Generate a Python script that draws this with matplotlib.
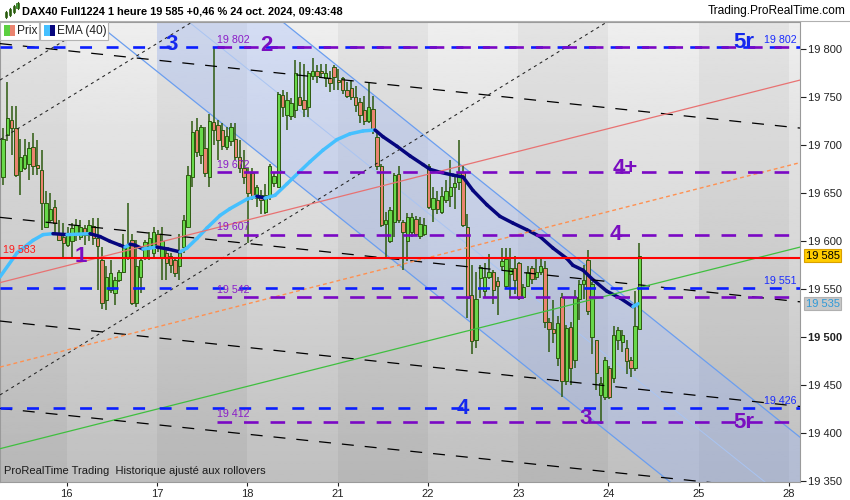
import matplotlib
matplotlib.use("Agg")
import matplotlib.pyplot as plt
import numpy as np
from matplotlib.collections import LineCollection
from matplotlib.patches import Rectangle, Polygon
from matplotlib.lines import Line2D

plt.rcParams["font.family"] = ["Liberation Sans", "DejaVu Sans"]
plt.rcParams["lines.scale_dashes"] = False

# time axis: one unit per trading session, 16 oct. = 1
day_labels = ["16", "17", "18", "21", "22", "23", "24", "25", "28"]
day_ticks = [1, 2, 3, 4, 5, 6, 7, 8, 9]
slots_per_day = 21

# hourly candles (open, high, low, close)
bars_15 = [
    (19667, 19718, 19659, 19707), (19711, 19766, 19705, 19728),
    (19726, 19741, 19690, 19718), (19718, 19741, 19667, 19669),
    (19673, 19707, 19648, 19688), (19676, 19707, 19674, 19690),
    (19681, 19704, 19664, 19697), (19698, 19713, 19669, 19678),
    (19680, 19706, 19669, 19676), (19674, 19695, 19612, 19640),
    (19615, 19652, 19614, 19640), (19622, 19650, 19620, 19634),
    (19636, 19643, 19608, 19619), (19609, 19622, 19600, 19601),
    (19605, 19619, 19584, 19598),
]
bars_16 = [
    (19596, 19615, 19594, 19607), (19600, 19619, 19584, 19614),
    (19608, 19623, 19600, 19617), (19605, 19622, 19601, 19615),
    (19614, 19617, 19596, 19607), (19607, 19622, 19600, 19617),
    (19616, 19624, 19596, 19603), (19603, 19624, 19549, 19595),
    (19581, 19594, 19530, 19536), (19539, 19574, 19529, 19563),
    (19549, 19581, 19546, 19567), (19546, 19563, 19534, 19560),
    (19560, 19570, 19558, 19568), (19568, 19608, 19567, 19594),
    (19584, 19640, 19581, 19595), (19601, 19608, 19534, 19536),
    (19536, 19601, 19532, 19574), (19563, 19584, 19546, 19581),
    (19583, 19601, 19581, 19599), (19594, 19610, 19581, 19603),
    (19588, 19615, 19584, 19610),
]
bars_17 = [
    (19608, 19612, 19589, 19595), (19583, 19615, 19560, 19600),
    (19588, 19594, 19560, 19577), (19585, 19588, 19567, 19575),
    (19581, 19584, 19563, 19567), (19574, 19608, 19560, 19588),
    (19594, 19627, 19588, 19622), (19615, 19678, 19615, 19669),
    (19667, 19725, 19657, 19714), (19716, 19728, 19688, 19693),
    (19690, 19721, 19681, 19719), (19697, 19719, 19667, 19671),
    (19667, 19733, 19657, 19725), (19724, 19802, 19700, 19716),
    (19721, 19726, 19685, 19706), (19716, 19723, 19695, 19699),
    (19698, 19719, 19695, 19710), (19705, 19723, 19699, 19719),
    (19707, 19723, 19685, 19688), (19688, 19706, 19671, 19676),
    (19676, 19695, 19660, 19667),
]
bars_18 = [
    (19672, 19676, 19598, 19650), (19671, 19676, 19643, 19647),
    (19645, 19659, 19636, 19657), (19648, 19653, 19629, 19643),
    (19631, 19660, 19629, 19648), (19648, 19681, 19643, 19678),
    (19661, 19672, 19657, 19668), (19657, 19756, 19657, 19754),
    (19752, 19758, 19730, 19740), (19732, 19756, 19716, 19747),
    (19731, 19749, 19726, 19744), (19737, 19789, 19728, 19775),
    (19750, 19787, 19744, 19742), (19747, 19785, 19730, 19738),
    (19740, 19777, 19730, 19775), (19772, 19791, 19768, 19777),
    (19777, 19784, 19765, 19772), (19777, 19785, 19771, 19775),
    (19770, 19785, 19761, 19775), (19770, 19777, 19756, 19765),
    (19782, 19784, 19758, 19771),
]
bars_21 = [
    (19768, 19780, 19758, 19766), (19770, 19771, 19754, 19758),
    (19758, 19766, 19749, 19751), (19760, 19768, 19747, 19750),
    (19750, 19762, 19735, 19742), (19745, 19749, 19723, 19732),
    (19737, 19751, 19721, 19725), (19725, 19765, 19723, 19740),
    (19738, 19751, 19712, 19716), (19709, 19716, 19674, 19678),
    (19679, 19681, 19615, 19617), (19618, 19631, 19582, 19622),
    (19600, 19636, 19598, 19633), (19620, 19671, 19605, 19669),
    (19670, 19678, 19619, 19622), (19620, 19622, 19570, 19610),
    (19600, 19630, 19580, 19625), (19610, 19630, 19605, 19625),
    (19623, 19626, 19606, 19608), (19606, 19625, 19602, 19618),
    (19608, 19624, 19606, 19617),
]
bars_22 = [
    (19679, 19681, 19634, 19636), (19634, 19657, 19620, 19645),
    (19643, 19652, 19629, 19634), (19631, 19657, 19629, 19647),
    (19643, 19664, 19640, 19652), (19647, 19685, 19636, 19657),
    (19657, 19667, 19634, 19661), (19662, 19706, 19654, 19671),
    (19672, 19678, 19615, 19617), (19615, 19629, 19520, 19541),
    (19544, 19575, 19483, 19496), (19497, 19568, 19489, 19540),
    (19562, 19575, 19541, 19573), (19548, 19577, 19541, 19563),
    (19563, 19587, 19561, 19568), (19568, 19570, 19535, 19549),
    (19559, 19563, 19523, 19553), (19574, 19593, 19570, 19580),
    (19553, 19593, 19551, 19582), (19566, 19593, 19541, 19572),
    (19572, 19585, 19545, 19560),
]
bars_23 = [
    (19577, 19579, 19539, 19541), (19542, 19556, 19540, 19552),
    (19553, 19574, 19552, 19568), (19572, 19574, 19556, 19561),
    (19563, 19584, 19560, 19568), (19568, 19584, 19565, 19574),
    (19572, 19580, 19510, 19516), (19516, 19520, 19485, 19509),
    (19509, 19539, 19494, 19504), (19478, 19522, 19470, 19515),
    (19542, 19546, 19438, 19455), (19455, 19513, 19450, 19510),
    (19511, 19516, 19450, 19468), (19476, 19549, 19468, 19542),
    (19540, 19560, 19518, 19556), (19556, 19575, 19540, 19560),
    (19581, 19591, 19523, 19527), (19500, 19558, 19483, 19556),
    (19497, 19497, 19445, 19463), (19440, 19459, 19410, 19452),
    (19438, 19480, 19435, 19476),
]
bars_24 = [
    (19468, 19470, 19436, 19438), (19458, 19512, 19452, 19502),
    (19497, 19511, 19487, 19508), (19495, 19508, 19485, 19502),
    (19489, 19497, 19462, 19475), (19476, 19480, 19459, 19468),
    (19468, 19548, 19465, 19512), (19509, 19598, 19509, 19585),
]
sessions = [bars_15, bars_16, bars_17, bars_18, bars_21, bars_22, bars_23, bars_24]
session_first_slot = [6, 0, 0, 0, 0, 0, 0, 0]

# EMA(40) read along its path
ema_t = [0.261, 0.450, 0.627, 0.738, 0.848, 1.003, 1.258, 1.369, 1.480, 1.590,
         1.646, 1.701, 1.756, 1.845, 1.922, 2.000, 2.122, 2.255, 2.332, 2.443,
         2.554, 2.698, 2.808, 2.997, 3.107, 3.196, 3.307, 3.440, 3.584, 3.695,
         3.838, 3.993, 4.137, 4.281, 4.414, 4.503, 4.658, 4.802, 4.946, 5.024,
         5.134, 5.278, 5.389, 5.499, 5.654, 5.798, 5.942, 6.097, 6.241, 6.385,
         6.540, 6.606, 6.717, 6.828, 6.983, 7.127, 7.271, 7.327]
ema_v = [19563, 19588, 19601, 19607, 19608, 19607, 19608, 19605, 19600, 19596,
         19594, 19597, 19596, 19592, 19593, 19594, 19592, 19589, 19593, 19603,
         19614, 19627, 19634, 19644, 19647, 19645, 19648, 19660, 19673, 19683,
         19695, 19706, 19712, 19715, 19716, 19709, 19699, 19689, 19680, 19675,
         19672, 19669, 19667, 19653, 19638, 19626, 19619, 19612, 19605, 19593,
         19582, 19575, 19570, 19560, 19548, 19541, 19532, 19535]

# horizontal levels
blue_levels = [19802, 19551, 19426]
purple_levels = [19802, 19672, 19607, 19542, 19412]
purple_start = 2.664
prev_close = 19583
last_price = 19585
last_ema = 19535

# drawn trend lines, each given by two points (session time, price)
down_dashed = [((0.261, 19806), (9.121, 19718)), ((0.261, 19625), (9.121, 19537)),
               ((0.261, 19517), (9.121, 19428)), ((0.261, 19426), (9.121, 19339))]
up_dotted = [((0.261, 19440), (6.975, 19828)), ((0.261, 19706), (2.398, 19829)),
             ((0.261, 19768), (1.300, 19828))]
red_line = ((0.261, 19557), (9.121, 19768))
orange_line = ((0.261, 19469), (9.121, 19682))
green_line = ((0.261, 19384), (9.121, 19594))
chan_lower = ((1.47, 19817), (7.66, 19351))
chan_mid = ((2.40, 19825), (8.71, 19351))
chan_upper = ((3.40, 19828), (9.12, 19396))
chan_start = 2.0

price_ticks = list(range(19350, 19801, 50))

X0, X1 = 0.2614, 9.1207
Y0, Y1 = 19349.3, 19828.5
W, H = 850, 500


def fmt(v):
    return f"{v:,}".replace(",", " ")


def line_at(seg, x):
    (xa, ya), (xb, yb) = seg
    return ya + (yb - ya) * (np.asarray(x) - xa) / (xb - xa)


def px(x, y):
    return x / W, 1 - y / H


fig = plt.figure(figsize=(8.5, 5), dpi=100, facecolor="white")
ax = fig.add_axes([0, 18 / H, 800 / W, 460 / H])
ax.set_xlim(X0, X1)
ax.set_ylim(Y0, Y1)

# background: vertical gradient + alternating session shading
grad = np.linspace(0.935, 0.75, 256)[:, None]
ax.imshow(grad, extent=[X0, X1, Y0, Y1], aspect="auto", cmap="gray",
          vmin=0, vmax=1, origin="upper", zorder=0)
for d in [0, 2, 4, 6, 8]:
    ax.axvspan(max(d, X0), d + 1, color="black", alpha=0.045, lw=0, zorder=0.5)

# regression channel
xs = np.array([chan_start, X1])
lo = line_at(chan_lower, xs)
up = line_at(chan_upper, xs)
ax.add_patch(Polygon([(xs[0], lo[0]), (xs[1], lo[1]), (xs[1], up[1]), (xs[0], up[0])],
                     closed=True, facecolor="#96b4ff", alpha=0.3, lw=0, zorder=1))
full = np.array([X0, X1])
ax.plot(full, line_at(chan_lower, full), color="#6a9ef0", lw=0.9, zorder=2)
ax.plot(full, line_at(chan_upper, full), color="#6a9ef0", lw=0.9, zorder=2)
ax.plot(full, line_at(chan_mid, full), color="#a9c4f2", lw=0.7, zorder=2)

# slanted trend lines
for seg in down_dashed:
    ax.plot(full, line_at(seg, full), color="black", lw=0.9,
            dashes=(8.6, 7.9), zorder=4.5)
for seg in up_dotted:
    ax.plot(full, line_at(seg, full), color="#222222", lw=0.75,
            dashes=(2.2, 2.6), zorder=4.5)
ax.plot(full, line_at(red_line, full), color="#e87272", lw=0.9, zorder=4.5)
ax.plot(full, line_at(orange_line, full), color="#ff9050", lw=1.0,
        dashes=(2.8, 2.2), zorder=4.5)
ax.plot(full, line_at(green_line, full), color="#3fbf3f", lw=0.9, zorder=4.5)

# candles
wick_c = "#2d5a10"
for bars, first, day in zip(sessions, session_first_slot, range(len(sessions))):
    for k, (o, h, l, c) in enumerate(bars):
        x = day + (first + k + 0.2) / slots_per_day
        ax.vlines(x, l, h, color=wick_c, lw=1.1, zorder=3)
        body = max(abs(c - o), 1.2)
        ax.bar(x, body, bottom=min(o, c), width=0.037,
               color="#68d84a" if c >= o else "#ea8470",
               edgecolor=wick_c, linewidth=0.7, zorder=3.2)

# EMA(40), light when rising, dark when falling
pts = np.column_stack([ema_t, ema_v])
segs = np.stack([pts[:-1], pts[1:]], axis=1)
cols = ["#45c0ff" if b >= a else "#06067e" for a, b in zip(ema_v[:-1], ema_v[1:])]
ax.add_collection(LineCollection(segs, colors=cols, linewidths=2.5,
                                 capstyle="round", joinstyle="round", zorder=4))

# horizontal levels
for lv in blue_levels:
    ax.plot(full, [lv, lv], color="#0a1eff", lw=1.9, dashes=(8.6, 10.5), zorder=5)
for lv in purple_levels:
    ax.plot([purple_start, X1], [lv, lv], color="#7a08c4", lw=1.9,
            dashes=(10.5, 8.6), zorder=5.1)
ax.axhline(prev_close, color="#ff0000", lw=1.5, zorder=5.2)

# level labels
for lv in purple_levels:
    ax.text(purple_start + 0.005, lv + 2.5, fmt(lv), color="#8a1cc8", fontsize=7.7,
            ha="left", va="bottom", zorder=6)
for lv in blue_levels:
    ax.text(9.087, lv + 2.5, fmt(lv), color="#1a2cff", fontsize=7.7,
            ha="right", va="bottom", zorder=6)
ax.text(0.294, prev_close + 2.5, fmt(prev_close), color="#ff1a1a", fontsize=7.7,
        ha="left", va="bottom", zorder=6)

big = dict(fontsize=16, fontweight="bold", ha="center", va="center", zorder=6)
ax.text(2.160, 19805, "3", color="#1428ee", **big)
ax.text(3.213, 19803.5, "2", color="#7a0ec0", **big)
ax.text(8.50, 19807, "5r", color="#1428ee", **big)
ax.text(7.188, 19676, "4+", color="#7a0ec0", **big)
ax.text(7.083, 19607, "4", color="#7a0ec0", **big)
ax.text(1.158, 19584, "1", color="#7a0ec0", **big)
ax.text(5.389, 19426, "4", color="#1428ee", **big)
ax.text(6.751, 19415, "3", color="#7a0ec0", **big)
ax.text(8.50, 19411, "5r", color="#7a0ec0", **big)

ax.text(0.005, 0.012, "ProRealTime Trading  Historique ajusté aux rollovers",
        transform=ax.transAxes, fontsize=8, color="#1a1a1a", ha="left",
        va="bottom", zorder=6)

# axes
ax.yaxis.tick_right()
ax.set_yticks(price_ticks)
ax.set_yticklabels([fmt(v) for v in price_ticks])
for lab, v in zip(ax.get_yticklabels(), price_ticks):
    if v == 19500:
        lab.set_fontweight("bold")
ax.set_xticks(day_ticks)
ax.set_xticklabels(day_labels)
ax.tick_params(axis="y", length=4, width=0.8, colors="#222222", labelsize=8, pad=2)
ax.tick_params(axis="x", length=3, width=0.8, colors="#222222", labelsize=8, pad=2)
for sp in ax.spines.values():
    sp.set_color("#9a9a9a")
    sp.set_linewidth(0.8)

# price boxes on the scale
for val, fc, ec, tc in [(last_price, "#ffcc00", "#d9a000", "black"),
                        (last_ema, "#c8c8c8", "#b0b0b0", "#2f9ad8")]:
    ax.annotate(fmt(val), xy=(1.0, val), xycoords=("axes fraction", "data"),
                xytext=(4, 0), textcoords="offset points", fontsize=8, color=tc,
                ha="left", va="center", annotation_clip=False, zorder=7,
                bbox=dict(boxstyle="square,pad=0.15", fc=fc, ec=ec, lw=0.8))

# title bar
fig.add_artist(Line2D([0, 1], [1 - 20.5 / H] * 2, color="#b0b0b0", lw=0.8))
fig.text(*px(22, 11), "DAX40 Full1224 1 heure 19 585 +0,46 % 24 oct. 2024, 09:43:48",
         fontsize=7.9, fontweight="bold", ha="left", va="center")
fig.text(*px(846, 11), "Trading.ProRealTime.com", fontsize=8.6, ha="right", va="center")
# tiny candle icon
for cx, y_top, y_bot, col in [(6, 12, 17, "#3cb43c"), (10, 9, 15, "#3cb43c"),
                              (14, 6, 12, "#3cb43c"), (17.5, 3, 8, "#3cb43c")]:
    fig.add_artist(Line2D([cx / W] * 2, [1 - (y_top - 1) / H, 1 - (y_bot + 1) / H],
                          color="#2d5a10", lw=0.8))
    fig.add_artist(Rectangle(px(cx - 1.3, y_bot), 2.6 / W, (y_bot - y_top) / H,
                             transform=fig.transFigure, fc=col, ec="#2d5a10", lw=0.5))

# legend boxes
for x0, x1, label, c1, c2 in [(0, 39, "Prix", "#5cd040", "#ea8470"),
                              (40, 108, "EMA (40)", "#45c0ff", "#06067e")]:
    fig.add_artist(Rectangle(px(x0, 40), (x1 - x0) / W, 18 / H,
                             transform=fig.transFigure, fc="white", ec="#b4b4b4",
                             lw=0.8, zorder=10))
    fig.add_artist(Rectangle(px(x0 + 4, 36), 5.5 / W, 11 / H,
                             transform=fig.transFigure, fc=c1, lw=0, zorder=11))
    fig.add_artist(Rectangle(px(x0 + 9.5, 36), 5.5 / W, 11 / H,
                             transform=fig.transFigure, fc=c2, lw=0, zorder=11))
    fig.text(*px(x0 + 17, 31), label, fontsize=8.6, ha="left", va="center",
             color="#222222", zorder=12)

fig.savefig("out.png", dpi=100, facecolor="white")
